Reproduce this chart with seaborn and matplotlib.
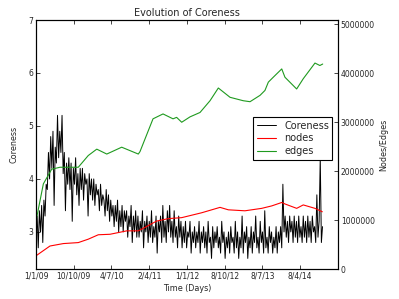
import numpy as np
import matplotlib
matplotlib.use("Agg")
import matplotlib.pyplot as plt
import seaborn as sns

# Coreness, one value every 6 days (left axis)
coreness_step = 6
coreness = [
    2.9, 3.3, 2.7, 3.4, 3.0, 3.5, 2.8, 3.6, 3.3, 3.9,
    3.8, 4.5, 4.0, 4.8, 4.2, 4.9, 3.5, 4.6, 4.3, 5.2,
    4.4, 4.9, 4.5, 5.2, 4.1, 4.5, 3.4, 4.3, 3.9, 4.4,
    3.8, 4.3, 3.2, 4.2, 3.9, 4.4, 3.7, 4.1, 3.5, 4.2,
    3.8, 4.2, 3.6, 4.1, 3.9, 4.0, 3.3, 4.1, 3.7, 4.0,
    3.6, 4.0, 3.5, 3.9, 3.7, 3.8, 3.4, 3.9, 3.5, 3.7,
    3.6, 3.3, 3.8, 3.4, 3.7, 3.2, 3.6, 3.3, 3.5, 3.1,
    3.5, 3.2, 3.6, 3.0, 3.4, 3.1, 3.5, 3.0, 3.4, 3.2,
    3.4, 2.9, 3.3, 3.1, 3.5, 2.8, 3.3, 3.0, 3.4, 2.9,
    3.3, 2.9, 3.2, 3.0, 3.4, 2.7, 3.2, 3.0, 3.3, 2.8,
    3.2, 2.9, 3.4, 2.8, 3.1, 2.9, 3.3, 2.6, 3.2, 3.0,
    3.3, 2.8, 3.5, 2.9, 3.2, 2.8, 3.4, 3.0, 3.5, 2.9,
    3.2, 2.8, 3.4, 2.9, 3.1, 2.7, 3.3, 2.9, 3.2, 2.7,
    3.1, 2.8, 3.2, 2.7, 3.0, 2.9, 3.2, 2.6, 3.0, 2.8,
    3.1, 2.7, 3.0, 2.8, 3.2, 2.6, 3.0, 2.8, 3.1, 2.7,
    3.0, 2.6, 3.2, 2.8, 2.9, 2.5, 3.1, 2.7, 3.0, 2.8,
    3.1, 2.7, 2.9, 2.6, 3.2, 2.8, 3.0, 2.5, 2.9, 2.7,
    3.0, 2.6, 3.1, 2.8, 2.9, 2.6, 3.2, 2.7, 3.0, 2.5,
    2.9, 2.7, 3.3, 2.6, 3.0, 2.8, 3.1, 2.5, 2.9, 2.7,
    3.1, 2.6, 3.0, 2.8, 3.3, 2.7, 2.9, 2.6, 3.2, 2.8,
    3.0, 2.6, 3.4, 2.7, 2.9, 2.6, 3.1, 2.8, 3.0, 2.6,
    2.9, 2.7, 3.1, 2.6, 3.0, 2.8, 3.1, 2.7, 3.9, 3.0,
    3.3, 2.9, 3.2, 2.8, 3.3, 3.0, 3.2, 2.8, 3.3, 2.9,
    3.2, 2.8, 3.3, 2.9, 3.1, 2.8, 3.3, 2.9, 3.2, 2.8,
    3.3, 2.9, 3.2, 2.8, 3.3, 3.0, 3.1, 2.8, 3.7, 2.9,
    3.2, 4.4, 2.8, 3.1,
]
coreness_days = np.arange(len(coreness)) * coreness_step

# nodes / edges in millions (right axis)
nodes_days = [0, 74, 145, 224, 277, 330, 392, 481, 542, 577, 639, 701, 772,
              878, 975, 1019, 1107, 1196, 1249, 1302, 1319, 1381, 1416, 1478, 1517]
nodes = [0.27, 0.47, 0.52, 0.54, 0.61, 0.70, 0.71, 0.78, 0.78, 0.85, 0.98, 1.03,
         1.05, 1.15, 1.26, 1.21, 1.19, 1.24, 1.29, 1.36, 1.33, 1.24, 1.31, 1.24, 1.17]

edges_days = [0, 39, 83, 127, 224, 277, 322, 375, 392, 454, 498, 542, 551, 620,
              673, 726, 745, 772, 816, 869, 922, 966, 1028, 1098, 1134, 1187,
              1213, 1231, 1257, 1302, 1319, 1381, 1416, 1478, 1504, 1519]
edges = [0.98, 1.74, 2.04, 2.08, 2.08, 2.32, 2.45, 2.35, 2.38, 2.49, 2.42, 2.35,
         2.40, 3.07, 3.17, 3.07, 3.10, 3.00, 3.11, 3.20, 3.44, 3.70, 3.51, 3.44,
         3.42, 3.55, 3.65, 3.82, 3.92, 4.09, 3.92, 3.68, 3.89, 4.21, 4.16, 4.19]

tick_days = [0, 200, 400, 600, 800, 1000, 1200, 1400]
tick_labels = ["1/1/09", "10/10/09", "4/7/10", "2/4/11", "1/1/12",
               "8/10/12", "8/7/13", "8/4/14"]

sns.set_style("white", {"xtick.direction": "in", "ytick.direction": "in",
                        "axes.edgecolor": "black"})
plt.rcParams["font.family"] = ["DejaVu Sans"]

fig = plt.figure(figsize=(3.99, 2.99), dpi=100)
ax = fig.add_axes([0.0902, 0.1003, 0.7569, 0.8328])
ax2 = ax.twinx()

sns.lineplot(x=coreness_days, y=coreness, ax=ax, color="black",
             linewidth=0.7, label="Coreness", legend=False)
sns.lineplot(x=nodes_days, y=np.array(nodes) * 1e6, ax=ax2, color="red",
             linewidth=0.8, label="nodes", legend=False)
sns.lineplot(x=edges_days, y=np.array(edges) * 1e6, ax=ax2, color="#1f9a1f",
             linewidth=0.8, label="edges", legend=False)

ax.set_xlim(0, 1600)
ax.set_ylim(2.3, 7)
ax.set_yticks([3, 4, 5, 6, 7])
ax2.set_ylim(0, 5.09e6)
ax2.set_yticks([0, 1e6, 2e6, 3e6, 4e6, 5e6])
ax2.set_yticklabels(["0", "1000000", "2000000", "3000000", "4000000", "5000000"])
ax.set_xticks(tick_days)
ax.set_xticklabels(tick_labels)

for a in (ax, ax2):
    a.tick_params(direction="in", length=3, width=0.6, labelsize=5.5, pad=2)
    for s in a.spines.values():
        s.set_linewidth(0.8)
        s.set_color("black")
ax.tick_params(axis="x", top=True, bottom=True)
ax2.tick_params(axis="y", right=True)

ax.set_title("Evolution of Coreness", fontsize=7, pad=3)
ax.set_xlabel("Time (Days)", fontsize=5.8, labelpad=2)
ax.set_ylabel("Coreness", fontsize=5.8, labelpad=7)
ax2.set_ylabel("Nodes/Edges", fontsize=5.8, labelpad=3)

h1, l1 = ax.get_legend_handles_labels()
h2, l2 = ax2.get_legend_handles_labels()
leg = ax2.legend(h1 + h2, l1 + l2, loc="upper left", bbox_to_anchor=(0.72, 0.61),
                 borderaxespad=0, fontsize=7, fancybox=False, framealpha=1,
                 edgecolor="black", handlelength=2, labelspacing=0.3,
                 borderpad=0.35)
leg.get_frame().set_linewidth(0.8)

fig.savefig("out.png", dpi=100)
